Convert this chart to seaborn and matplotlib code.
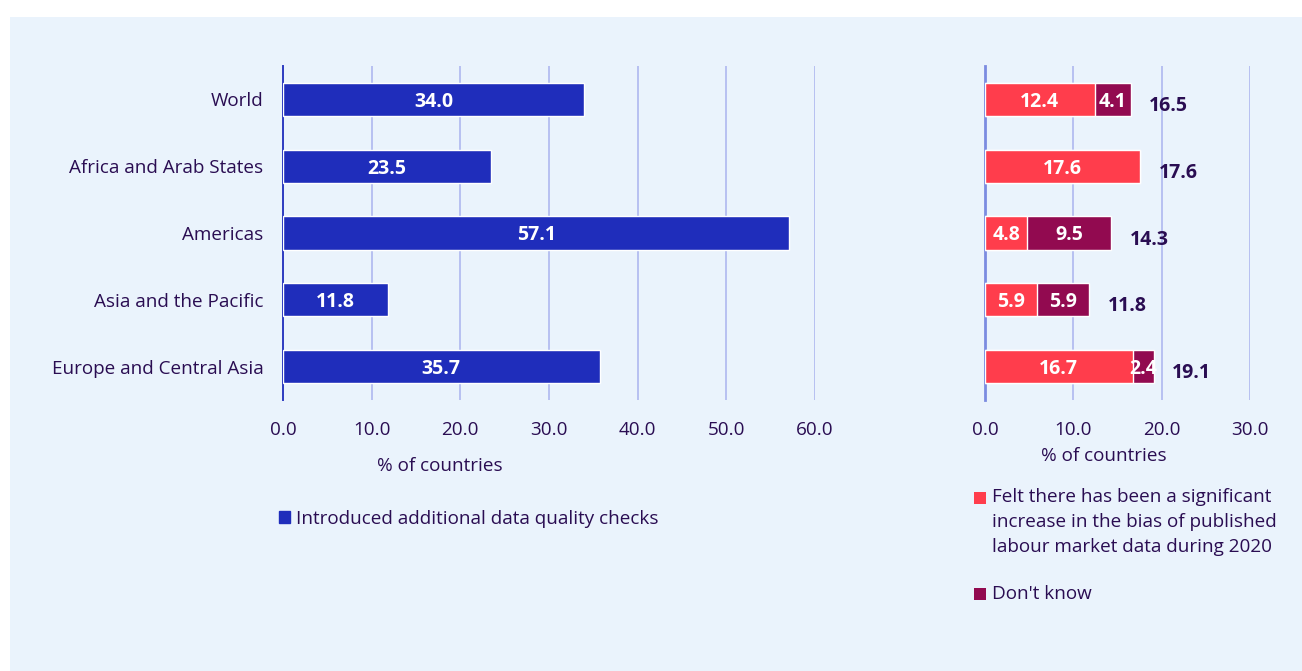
import matplotlib
matplotlib.use('Agg')
import matplotlib.pyplot as plt
from matplotlib.patches import Rectangle, Patch
import seaborn as sns
import pandas as pd

regions = ['World', 'Africa and Arab States', 'Americas',
           'Asia and the Pacific', 'Europe and Central Asia']
quality_checks = [34.0, 23.5, 57.1, 11.8, 35.7]
felt_bias = [12.4, 17.6, 4.8, 5.9, 16.7]
dont_know = [4.1, 0.0, 9.5, 5.9, 2.4]
totals = [16.5, 17.6, 14.3, 11.8, 19.1]

BLUE = '#1F2DBB'
RED = '#FF3D4C'
PLUM = '#920A50'
TXT = '#2A0D52'
BG = '#EAF3FC'
GRID = '#B3BCF0'
FS = 13.6
FSB = 14

sns.set_theme(style='white')
plt.rcParams['font.family'] = ['Open Sans', 'DejaVu Sans']

df = pd.DataFrame({'region': regions, 'checks': quality_checks,
                   'bias': felt_bias, 'dk': dont_know, 'total': totals})

W, H = 1302, 671
fig = plt.figure(figsize=(W / 100, H / 100), dpi=100)
fig.patch.set_facecolor('white')
fig.patches.append(Rectangle((10 / W, 0), 1 - 10 / W, 1 - 17 / H,
                             transform=fig.transFigure, facecolor=BG,
                             edgecolor='none', zorder=-5))

ax1 = fig.add_axes([283 / W, 1 - 400 / H, 532 / W, 334 / H])
ax2 = fig.add_axes([985 / W, 1 - 400 / H, 265 / W, 334 / H])

# left panel
sns.barplot(data=df, x='checks', y='region', orient='h', color=BLUE,
            saturation=1, width=0.5, errorbar=None, ax=ax1, zorder=3)
lbls = ax1.bar_label(ax1.containers[0], labels=[f'{v:.1f}' for v in quality_checks],
                     label_type='center', color='white', fontsize=FSB,
                     fontweight='bold')
for t in lbls:
    t.set_va('center_baseline')
ax1.set_xlim(0, 60)
ax1.set_xticks([0, 10, 20, 30, 40, 50, 60])

# right panel: totals underneath, red share on top
sns.barplot(data=df, x='total', y='region', orient='h', color=PLUM,
            saturation=1, width=0.5, errorbar=None, ax=ax2, zorder=3)
sns.barplot(data=df, x='bias', y='region', orient='h', color=RED,
            saturation=1, width=0.5, errorbar=None, ax=ax2, zorder=4)
for i, (b, d, t) in enumerate(zip(felt_bias, dont_know, totals)):
    ax2.text(b / 2, i, f'{b:.1f}', ha='center', va='center_baseline',
             color='white', fontsize=FSB, fontweight='bold', zorder=5)
    if d > 0:
        ax2.text(b + d / 2, i, f'{d:.1f}', ha='center', va='center_baseline',
                 color='white', fontsize=FSB, fontweight='bold', zorder=5)
    ax2.text(t + 2.1, i + 0.06, f'{t:.1f}', ha='left', va='center_baseline',
             color=TXT, fontsize=FSB, fontweight='bold', zorder=5)
ax2.set_xlim(0, 30)
ax2.set_xticks([0, 10, 20, 30])
ax2.set_yticklabels([])

for ax in (ax1, ax2):
    ax.set_facecolor('none')
    ax.set_ylim(4.5, -0.5)
    ax.set_ylabel('')
    ax.set_xlabel('')
    ax.set_xticklabels([f'{v:.1f}' for v in ax.get_xticks()])
    ax.grid(axis='x', color=GRID, lw=1.3, zorder=1)
    ax.set_axisbelow(True)
    for s in ['top', 'right', 'bottom']:
        ax.spines[s].set_visible(False)
    ax.tick_params(length=0, colors=TXT, labelsize=FS)
    ax.tick_params(axis='x', pad=15)

ax1.spines['left'].set_color('#2E3CC0')
ax1.spines['left'].set_linewidth(1.4)
ax2.spines['left'].set_color('#7B8BE0')
ax2.spines['left'].set_linewidth(2)
ax1.tick_params(axis='y', pad=14)

fig.text(440 / W, 1 - 466 / H, '% of countries', ha='center', va='center',
         color=TXT, fontsize=FS)
fig.text(1104 / W, 1 - 456 / H, '% of countries', ha='center', va='center',
         color=TXT, fontsize=FS)

fig.legend(handles=[Patch(color=BLUE, label='Introduced additional data quality checks')],
           loc='center left', bbox_to_anchor=(262 / W, 1 - 519 / H),
           frameon=False, handlelength=0.6, handleheight=0.6,
           handletextpad=0.3, fontsize=FS, labelcolor=TXT)

# right legend, swatch on the first line of a wrapped label
for sy, col in [(492, RED), (588, PLUM)]:
    fig.patches.append(Rectangle((974 / W, 1 - (sy + 12) / H), 12 / W, 12 / H,
                                 transform=fig.transFigure, facecolor=col,
                                 edgecolor='none'))
fig.text(992 / W, 1 - 488 / H,
         'Felt there has been a significant\n'
         'increase in the bias of published\n'
         'labour market data during 2020',
         ha='left', va='top', color=TXT, fontsize=FS, linespacing=1.5)
fig.text(992 / W, 1 - 594 / H, "Don't know", ha='left', va='center',
         color=TXT, fontsize=FS)

fig.savefig('out.png', dpi=100, facecolor=fig.get_facecolor())
